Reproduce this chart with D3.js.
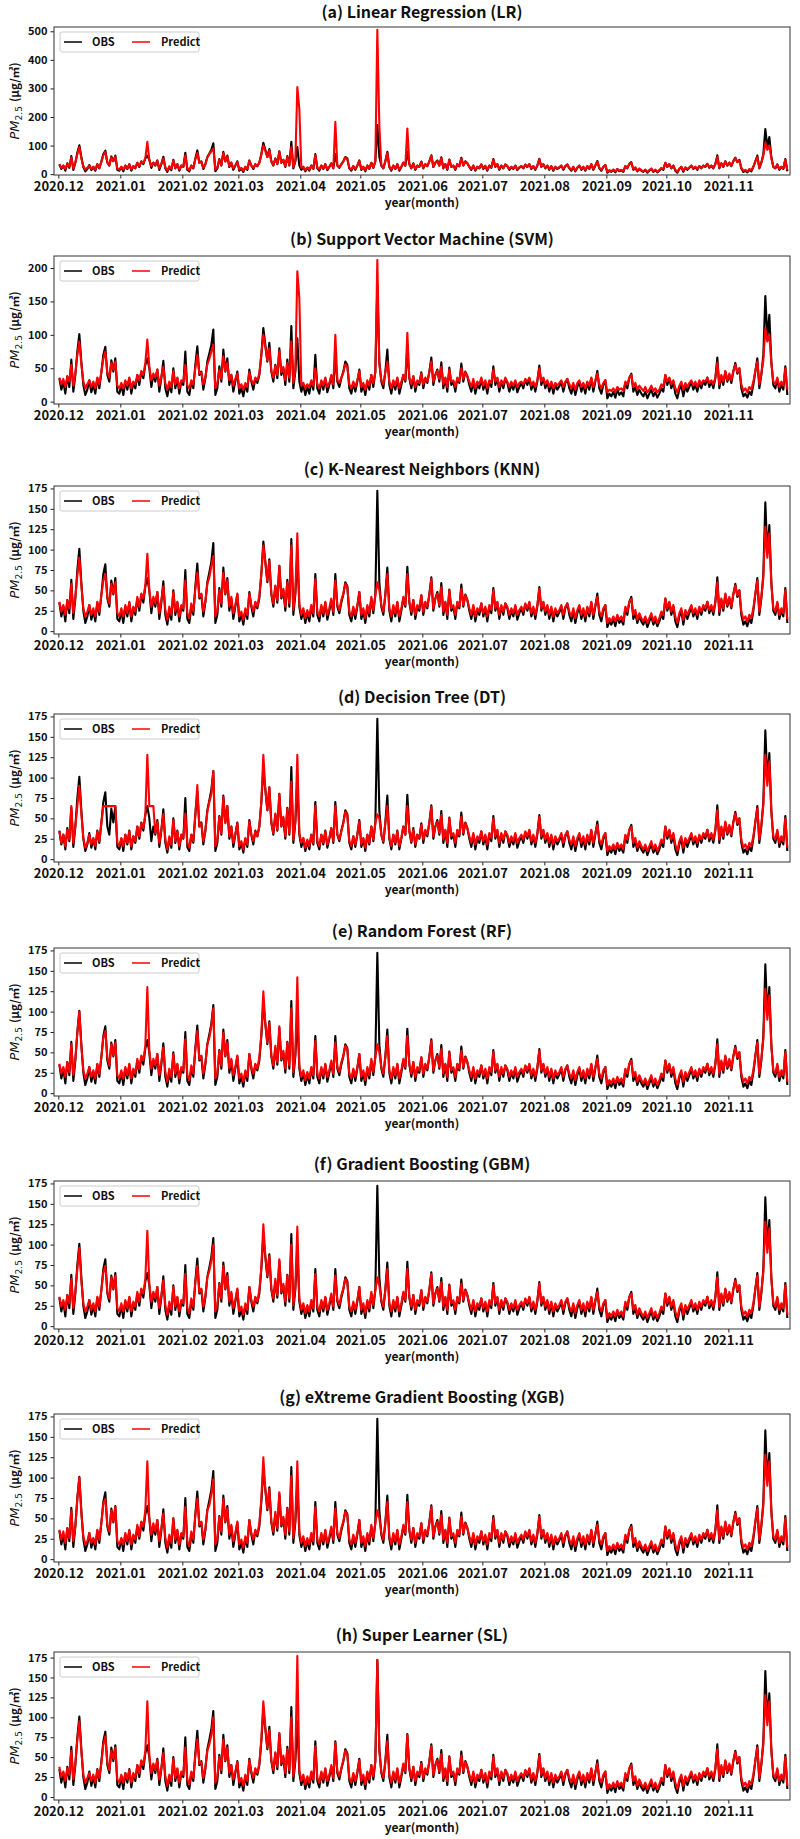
<!DOCTYPE html>
<html>
<head>
<meta charset="utf-8">
<script src="https://cdn.jsdelivr.net/npm/d3@7"></script>
<style>
    body { margin: 0; background: #fff; }
    svg text { font-family: "Noto Sans CJK KR", "Open Sans", sans-serif; fill: #111; }
</style>
</head>
<body>
<div id="chart"></div>
<script>
// * * * daily PM2.5 values, 2020-12-01 .. 2021-11-30 (one value per day) * * *

const monthLabels = ["2020.12", "2021.01", "2021.02", "2021.03", "2021.04", "2021.05",
    "2021.06", "2021.07", "2021.08", "2021.09", "2021.10", "2021.11"];

const titles = ["(a) Linear Regression (LR)", "(b) Support Vector Machine (SVM)", "(c) K-Nearest Neighbors (KNN)",
    "(d) Decision Tree (DT)", "(e) Random Forest (RF)", "(f) Gradient Boosting (GBM)",
    "(g) eXtreme Gradient Boosting (XGB)", "(h) Super Learner (SL)"];

const obs = [
    35,18,30,12,38,22,63,15,40,75,101,60,25,10,18,32,14,25,12,35,20,44,70,82,40,30,62,45,65,15,12,
    25,10,30,18,35,12,28,20,40,25,45,35,55,65,50,22,40,30,48,15,35,61,20,8,25,14,50,20,35,12,30,
    25,75,15,10,30,20,55,83,40,45,18,35,60,72,85,108,10,20,53,30,78,45,65,25,40,15,30,45,
    12,20,8,25,15,48,30,18,35,28,40,70,110,85,60,88,45,30,55,35,80,40,50,25,63,30,113,20,45,95,30,
    15,25,10,22,12,30,18,70,20,12,30,18,35,14,25,38,20,70,30,22,35,45,60,55,20,12,28,15,30,48,
    15,25,10,30,18,40,22,45,172,60,30,20,45,78,25,12,30,18,35,12,25,40,30,79,35,20,38,15,30,25,44,
    20,35,28,45,66,25,40,48,30,59,20,35,15,51,25,30,15,35,28,57,30,45,38,25,15,30,12,25,20,34,
    18,28,12,30,22,53,25,35,15,30,20,34,28,15,25,18,30,14,22,28,20,33,25,35,18,28,15,30,54,25,35,
    20,30,15,28,12,25,18,23,30,15,28,34,20,12,25,10,22,30,15,25,12,28,18,35,15,30,46,20,12,25,32,
    5,12,8,15,6,18,10,14,8,28,20,36,42,15,22,10,18,12,8,15,5,12,18,8,14,6,12,20,15,40,
    25,35,20,30,12,5,18,25,8,23,15,22,30,18,25,15,28,20,30,25,36,22,30,20,35,66,20,38,25,45,30,
    40,28,45,58,42,50,20,8,12,6,15,10,25,45,65,20,40,70,158,95,130,60,25,20,34,15,25,18,53,10
];

// predictions, split into Dec-Mar / Apr-May / Jun-Nov pieces
const lrDecMar = [
    34,22,30,18,36,26,58,20,40,70,95,56,28,16,22,30,18,26,16,34,22,42,66,78,42,32,58,46,62,20,16,
    26,16,30,20,34,16,28,22,40,28,44,38,56,113,50,28,40,32,46,20,36,55,24,12,28,18,48,22,34,16,30,
    26,66,20,14,30,22,52,74,40,44,22,34,58,70,80,90,16,24,50,32,74,44,62,28,40,20,30,42,
    16,22,12,26,18,46,30,22,34,28,40,68,100,82,60,84,44,32,54,36,78,40,50,28,60,32,95,24,46,305,228
];
const lrAprMay = [
    22,26,14,24,16,30,20,66,22,16,30,20,34,18,26,38,22,183,30,24,34,44,58,52,22,16,28,18,30,46,
    18,26,14,30,20,40,24,44,505,170,30,22,44,74,26,16,30,20,34,16,26,40,30,160,34,22,36,18,30,26,42
];
const lrJunNov = [
    22,35,28,44,64,26,40,46,30,56,22,35,18,50,26,30,18,35,28,54,30,44,38,26,18,30,15,26,22,34,
    20,30,15,30,24,50,26,35,18,30,22,34,28,18,26,20,30,16,24,28,22,33,26,35,20,28,18,30,52,26,35,
    22,30,18,28,15,26,20,25,30,18,28,34,22,15,26,12,24,30,18,26,15,28,20,35,18,30,44,22,15,26,32,
    8,14,10,16,9,18,12,15,10,28,22,36,40,18,24,12,20,14,10,16,8,14,20,10,16,8,14,22,18,40,
    26,35,22,30,15,8,20,26,12,24,18,24,30,20,26,18,28,22,30,26,36,24,30,22,35,60,22,38,26,45,30,
    40,30,45,56,42,48,22,12,15,9,18,14,26,45,60,22,40,65,110,85,100,56,26,22,34,18,26,20,50,14
];

const svmDecMar = [
    36,26,34,22,38,30,55,24,42,70,90,56,30,20,26,32,22,30,20,36,26,44,64,75,44,36,58,48,60,24,20,
    28,20,32,24,36,20,30,26,40,32,46,40,58,93,52,32,42,36,48,24,38,52,28,18,30,22,46,26,36,20,32,
    30,55,24,20,32,26,50,70,42,44,26,36,56,64,75,85,20,28,48,34,68,46,58,32,40,24,34,42,
    20,26,18,28,22,44,32,26,36,32,42,70,100,82,62,80,46,36,54,40,76,44,52,32,58,36,90,28,48,195,155
];
const svmAprMay = [
    24,28,20,26,22,32,24,50,26,20,32,24,36,22,28,40,26,100,32,28,36,44,56,52,26,20,30,22,32,46,
    22,28,18,32,24,40,28,44,212,56,32,26,44,60,30,20,32,24,36,20,30,40,32,103,36,26,38,22,32,28,42
];
const svmJunNov = [
    26,36,30,44,60,30,40,46,34,52,26,36,22,48,30,32,22,36,30,50,34,44,38,30,22,34,20,30,26,36,
    24,32,20,32,28,48,30,36,22,32,26,36,30,22,30,24,32,22,28,30,26,34,30,36,24,30,22,32,50,30,36,
    26,32,22,30,20,28,24,28,32,22,30,34,26,20,28,18,28,32,22,28,20,30,24,36,22,32,42,26,20,28,32,
    14,18,16,20,14,22,18,20,16,30,26,36,40,22,28,18,24,20,16,22,14,18,24,16,20,14,18,26,22,40,
    30,36,26,32,20,14,24,30,18,28,22,28,32,24,30,22,32,26,32,30,36,28,32,26,36,58,26,40,30,46,32,
    42,32,46,55,44,50,26,16,20,14,22,18,30,46,60,26,42,62,110,90,100,58,30,26,36,22,30,24,50,18
];

const knnDecMar = [
    36,24,32,20,38,28,58,22,42,68,90,56,28,18,24,32,20,28,18,36,24,44,62,70,42,34,58,46,60,22,18,
    28,18,32,22,36,18,30,24,42,30,46,40,56,95,50,30,42,34,48,22,38,55,26,14,30,20,48,24,36,18,32,
    28,62,22,16,34,24,52,72,42,46,24,36,58,66,80,92,18,26,50,34,72,46,62,30,42,22,32,46,
    18,24,14,28,20,46,32,24,36,30,44,70,105,84,62,86,46,34,56,38,80,42,52,30,60,34,105,26,48,120,34
];
const dtDecMar = [
    34,20,30,16,36,24,65,20,40,65,90,56,26,14,20,30,18,26,16,34,22,44,65,65,65,65,65,65,65,20,16,
    26,16,30,20,34,16,28,22,40,28,44,38,54,128,65,65,65,32,46,20,36,55,24,12,28,18,48,22,34,16,30,
    26,56,20,14,30,22,54,91,40,44,22,34,58,70,80,108,16,24,52,32,76,44,65,28,40,20,30,44,
    16,22,12,26,18,46,30,22,34,28,40,70,128,86,60,88,44,32,56,36,80,40,52,28,62,32,95,24,46,128,32
];
const dtAprMay = [
    20,26,14,24,16,30,20,65,22,16,30,20,34,18,26,38,22,65,30,24,34,44,58,54,22,16,28,18,30,46,
    18,26,14,30,20,40,24,44,55,50,30,22,44,65,26,16,30,20,34,16,26,40,30,65,34,22,36,18,30,26,42
];
const rfDecMar = [
    36,24,32,20,38,26,60,22,42,74,100,58,28,18,24,32,20,28,18,36,24,44,68,76,44,34,60,46,62,22,18,
    28,18,32,22,36,18,30,24,42,30,46,40,58,130,52,30,42,34,48,22,38,56,26,14,30,20,48,24,36,18,32,
    28,66,22,16,34,24,54,76,42,46,24,36,60,68,82,104,18,26,52,34,74,46,62,30,42,22,32,46,
    18,24,14,28,20,48,32,24,36,30,44,72,125,86,62,86,46,34,58,38,82,42,52,30,62,34,104,26,48,142,34
];
const gbmDecMar = [
    36,24,32,20,38,28,58,22,42,70,96,56,28,18,24,32,20,28,18,36,24,44,66,74,42,34,60,46,62,22,18,
    28,18,32,22,36,18,30,24,42,30,46,40,58,117,52,30,42,34,48,22,38,56,26,14,30,20,48,24,36,18,32,
    28,64,22,16,34,24,54,74,42,46,24,36,60,68,80,100,18,26,52,34,74,46,62,30,42,22,32,46,
    18,24,14,28,20,48,32,24,36,30,44,72,125,86,62,86,46,34,58,38,82,42,52,30,62,34,100,26,48,122,34
];
const xgbDecMar = [
    36,24,34,20,38,26,60,22,40,74,100,56,28,18,22,32,20,26,18,36,24,44,68,74,42,34,60,46,64,22,18,
    26,18,32,22,36,18,30,24,42,28,46,40,60,120,50,30,44,34,48,22,38,56,26,14,30,20,50,24,36,18,32,
    28,64,22,16,34,24,54,74,42,46,24,36,60,66,80,98,18,26,52,34,74,46,62,30,42,22,32,46,
    18,24,14,28,20,48,32,24,36,30,44,74,125,86,62,86,46,34,58,38,82,42,52,30,62,34,102,26,48,120,34
];
const slDecMar = [
    38,25,32,20,36,28,58,22,42,72,95,58,28,18,24,30,20,28,18,34,24,42,66,76,44,34,58,48,62,22,18,
    28,18,30,22,34,18,30,24,40,30,46,40,58,120,52,30,42,34,46,22,36,55,26,14,28,20,48,24,36,18,32,
    28,62,22,16,32,24,52,72,42,44,24,36,58,66,78,100,18,26,50,34,72,46,62,30,40,22,32,44,
    18,24,14,28,20,46,32,24,36,30,42,72,120,88,62,84,46,34,56,38,80,42,52,30,60,34,100,26,48,177,34
];
const slAprMay = [
    20,28,16,26,18,32,22,64,24,18,32,22,36,20,28,40,24,68,32,26,36,46,58,54,24,18,30,20,32,46,
    20,28,16,32,22,40,26,44,172,58,32,24,44,70,28,18,32,22,36,18,28,42,32,78,36,24,38,20,32,28,42
];
// shared by the tree / ensemble models (KNN, RF, GBM, XGB) in spring
const ensAprMay = [
    20,28,16,26,18,32,22,64,24,18,32,22,36,20,28,40,24,62,32,26,38,46,58,54,24,18,30,20,32,48,
    20,28,16,32,22,42,26,44,60,50,32,24,44,70,28,18,32,22,36,18,28,42,32,70,36,24,38,20,32,28,44
];
// shared by models (c)-(h) from June on
const ensJunNov = [
    24,36,30,44,64,28,40,46,32,54,24,36,20,50,28,32,20,36,30,52,32,44,38,28,20,32,18,28,24,34,
    22,30,18,32,26,50,28,36,20,32,24,34,30,20,28,22,32,20,26,30,24,34,28,36,22,30,20,32,52,28,36,
    24,32,20,30,18,28,22,26,32,20,30,34,24,18,28,16,26,32,20,28,18,30,22,36,20,32,42,24,18,28,32,
    10,16,12,18,12,20,14,18,12,30,24,36,40,20,26,14,22,16,12,18,10,16,22,12,18,10,16,24,20,40,
    28,36,24,32,18,10,22,28,14,26,20,26,32,22,28,20,30,24,32,28,36,26,32,24,36,60,24,40,28,46,32,
    42,30,46,56,44,50,24,14,18,12,20,16,28,46,62,24,42,66,128,90,120,58,28,24,36,20,28,22,50,14
];

const predictions = [
    [...lrDecMar, ...lrAprMay, ...lrJunNov],
    [...svmDecMar, ...svmAprMay, ...svmJunNov],
    [...knnDecMar, ...ensAprMay, ...ensJunNov],
    [...dtDecMar, ...dtAprMay, ...ensJunNov],
    [...rfDecMar, ...ensAprMay, ...ensJunNov],
    [...gbmDecMar, ...ensAprMay, ...ensJunNov],
    [...xgbDecMar, ...ensAprMay, ...ensJunNov],
    [...slDecMar, ...slAprMay, ...ensJunNov]
];

// y-axis limits and tick step for each panel
const yLimits = [[-3, 515], [-3.5, 218], [-3.5, 178], [-3.5, 178], [-3.5, 178], [-3.5, 178], [-3.5, 178], [-3.8, 182]];
const yTickMax = [500, 200, 175, 175, 175, 175, 175, 175];
const yTickStep = [100, 50, 25, 25, 25, 25, 25, 25];

/* * * * * * * * * * * * * *
*        PanelVis          *
* * * * * * * * * * * * * */

class PanelVis {

    constructor(svg, top, idx) {
        this.svg = svg;
        this.top = top;
        this.idx = idx;
        this.initVis();
    }

    initVis() {
        let vis = this;

        vis.margin = {left: 54, right: 10};
        vis.width = 800 - vis.margin.left - vis.margin.right;
        vis.height = 148;

        vis.g = vis.svg.append('g')
            .attr('transform', `translate(${vis.margin.left}, ${vis.top})`);

        vis.x = d3.scaleTime()
            .domain([new Date(2020, 10, 28, 20), new Date(2021, 11, 1, 20)])
            .range([0, vis.width]);

        vis.y = d3.scaleLinear()
            .domain(yLimits[vis.idx])
            .range([vis.height, 0]);

        // axes
        let monthStarts = d3.timeMonths(new Date(2020, 11, 1), new Date(2021, 11, 1));
        vis.xAxis = d3.axisBottom(vis.x)
            .tickValues(monthStarts)
            .tickFormat((d, i) => monthLabels[i])
            .tickSize(3.5)
            .tickPadding(3);

        vis.yAxis = d3.axisLeft(vis.y)
            .tickValues(d3.range(0, yTickMax[vis.idx] + 1, yTickStep[vis.idx]))
            .tickFormat(d3.format('d'))
            .tickSize(3.5)
            .tickPadding(3);

        vis.g.append('g')
            .attr('class', 'x-axis axis')
            .attr('transform', 'translate(0,' + vis.height + ')')
            .call(vis.xAxis);

        vis.g.append('g')
            .attr('class', 'y-axis axis')
            .call(vis.yAxis);

        vis.g.selectAll('.axis .domain').remove();
        vis.g.selectAll('.axis line').attr('stroke', '#222');
        vis.g.selectAll('.axis text')
            .attr('font-weight', 'bold')
            .attr('fill', '#111');
        vis.g.selectAll('.x-axis text').attr('font-size', 13);
        vis.g.selectAll('.y-axis text').attr('font-size', 11);

        vis.g.append('clipPath')
            .attr('id', 'clip' + vis.idx)
            .append('rect')
            .attr('width', vis.width)
            .attr('height', vis.height);

        vis.lineGroup = vis.g.append('g').attr('clip-path', `url(#clip${vis.idx})`);

        // frame
        vis.g.append('rect')
            .attr('width', vis.width)
            .attr('height', vis.height)
            .attr('fill', 'none')
            .attr('stroke', '#333')
            .attr('stroke-width', 1);

        // title
        vis.g.append('text')
            .attr('x', vis.width / 2)
            .attr('y', vis.idx === 0 ? -9 : -11)
            .attr('text-anchor', 'middle')
            .attr('font-size', 16)
            .attr('font-weight', 'bold')
            .text(titles[vis.idx]);

        // x title
        vis.g.append('text')
            .attr('x', vis.width / 2)
            .attr('y', vis.height + 32)
            .attr('text-anchor', 'middle')
            .attr('font-size', 12)
            .attr('font-weight', 'bold')
            .text('year(month)');

        // y title: PM2.5 (μg/㎥), drawn in a rotated group
        let ytg = vis.g.append('g')
            .attr('transform', `translate(-35, ${vis.height / 2}) rotate(-90)`);
        let yt = ytg.append('text')
            .attr('text-anchor', 'middle')
            .attr('font-size', 13);
        yt.append('tspan').attr('font-style', 'italic').attr('font-family', 'DejaVu Sans').text('PM');
        yt.append('tspan').attr('font-size', 9).attr('dy', 2.5).attr('font-family', 'DejaVu Sans').text('2.5');
        yt.append('tspan').attr('dy', -2.5).attr('dx', 4).attr('font-size', 11.5).attr('font-weight', 'bold').text('(μg/㎥)');

        // legend
        let lg = vis.g.append('g').attr('transform', 'translate(6, 5)');
        lg.append('rect')
            .attr('width', 139)
            .attr('height', 20)
            .attr('rx', 2)
            .attr('fill', 'white')
            .attr('fill-opacity', 0.85)
            .attr('stroke', '#ccc');
        [['OBS', 'black', 4, 32], ['Predict', 'red', 72, 101]].forEach(([label, color, lx, tx]) => {
            lg.append('line')
                .attr('x1', lx).attr('x2', lx + 18)
                .attr('y1', 10).attr('y2', 10)
                .attr('stroke', color)
                .attr('stroke-width', 1.5);
            lg.append('text')
                .attr('x', tx)
                .attr('y', 14)
                .attr('font-size', 11)
                .attr('font-weight', 'bold')
                .text(label);
        });

        vis.wrangleData();
    }

    wrangleData() {
        let vis = this;
        let start = new Date(2020, 11, 1, 12);
        vis.obs = obs.map((v, i) => ({date: d3.timeDay.offset(start, i), value: v}));
        vis.pred = predictions[vis.idx].map((v, i) => ({date: d3.timeDay.offset(start, i), value: v}));
        vis.updateVis();
    }

    updateVis() {
        let vis = this;

        let line = d3.line()
            .x(d => vis.x(d.date))
            .y(d => vis.y(d.value));

        vis.lineGroup.append('path')
            .datum(vis.obs)
            .attr('fill', 'none')
            .attr('stroke', 'black')
            .attr('stroke-width', 2.1)
            .attr('stroke-linejoin', 'round')
            .attr('d', line);

        vis.lineGroup.append('path')
            .datum(vis.pred)
            .attr('fill', 'none')
            .attr('stroke', '#f00')
            .attr('stroke-width', 2.1)
            .attr('stroke-linejoin', 'round')
            .attr('d', line);
    }
}

let svg = d3.select('#chart').append('svg')
    .attr('width', 800)
    .attr('height', 1839);

let panelTops = [27, 256, 486, 714, 948, 1181, 1414, 1652];
let panels = panelTops.map((t, i) => new PanelVis(svg, t, i));
</script>
</body>
</html>
